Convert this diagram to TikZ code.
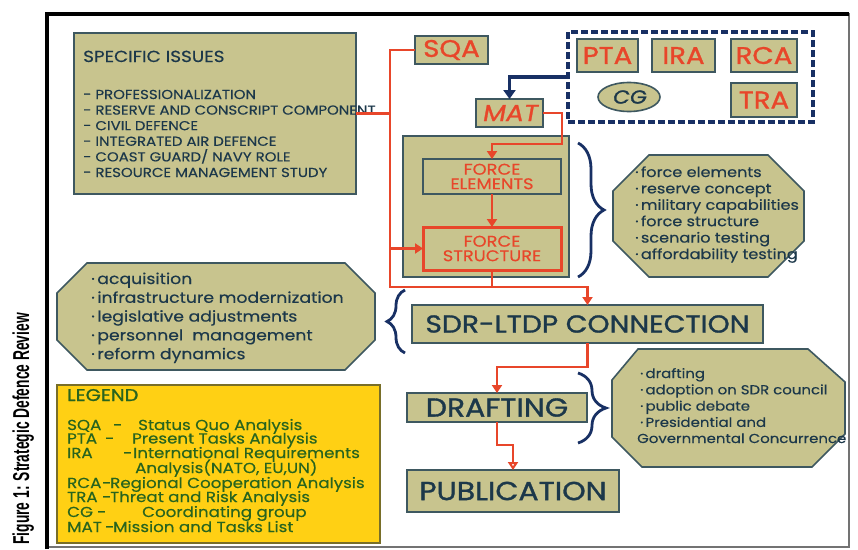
\documentclass[tikz,border=0pt]{standalone}
\usepackage{fontspec}
\setmainfont{Poppins}
\newfontfamily\capfont[FakeStretch=0.6]{Liberation Sans}
\newfontfamily\wide[FakeStretch=1.15,FakeBold=0.4]{Poppins}
\newfontfamily\lblfont[FakeStretch=1.15,FakeBold=1.2]{Poppins}
\newfontfamily\slfont[FakeSlant=0.18,FakeStretch=1.15,FakeBold=1.2]{Poppins}
\usetikzlibrary{arrows.meta,decorations.pathreplacing,shapes.geometric,calc}
\definecolor{khaki}{RGB}{200,196,142}
\definecolor{edge}{RGB}{62,88,96}
\definecolor{ink}{RGB}{28,56,74}
\definecolor{rd}{RGB}{232,70,42}
\definecolor{navy}{RGB}{24,48,100}
\definecolor{gold}{RGB}{255,208,20}
\definecolor{grn}{RGB}{40,100,30}
\definecolor{legedge}{RGB}{120,110,40}
\newcommand\lgline[4]{\rlap{#1}\hspace*{#2pt}\rlap{-}\hspace*{#3pt}#4}
\begin{document}
\begin{tikzpicture}[x=1pt,y=-1pt,
  box/.style={draw=edge, fill=khaki, line width=1.6pt, inner sep=0pt, outer sep=0pt},
  lbl/.style={box, text=ink, font=\lblfont\fontsize{26}{26}\selectfont},
  rbox/.style={box, text=rd, font=\lblfont\fontsize{24}{24}\selectfont},
  smallred/.style={text=rd, align=center, font=\wide\fontsize{15.5}{14.5}\selectfont},
  octo/.style={draw=edge, fill=khaki, line width=1.6pt},
  itemtxt/.style={text=ink, inner sep=0pt, anchor=base west},
  legtxt/.style={text=grn, inner sep=0pt, anchor=base west, font=\wide\fontsize{14.5}{14.5}\selectfont},
  wire/.style={draw=rd, line width=2.8pt},
  tip/.style={-{Triangle[width=10pt,length=8pt]}},
  opentip/.style={-{Triangle[open,fill=white,width=10pt,length=8pt]}},
  navywire/.style={draw=navy, line width=3.5pt},
  navytip/.style={-{Triangle[width=12pt,length=9pt]}},
  bracestyle/.style={draw=navy, line width=2.8pt, decorate},
  capstyle/.style={text=black, inner sep=0pt, font=\capfont\bfseries\fontsize{23}{23}\selectfont}
]
\useasboundingbox (0,0) rectangle (858,549);
\fill[white] (0,0) rectangle (858,549);
% frame
\draw[line width=2pt, black!55] (47,14) rectangle (849,547);
\draw[line width=4pt, black] (47,549) -- (47,14) -- (849,14);

% caption
\node[capstyle, rotate=90, anchor=base east] (cap) at (29,313) {Figure 1: Strategic Defence Review};

% specific issues
\node[box, minimum width=282pt, minimum height=161pt] (si) at (215,113.5) {};
\node[itemtxt, font=\wide\fontsize{16}{16}\selectfont] (sititle) at (83,62) {SPECIFIC ISSUES};
\foreach \t [count=\i] in {- PROFESSIONALIZATION, - RESERVE AND CONSCRIPT COMPONENT, - CIVIL DEFENCE, - INTEGRATED AIR DEFENCE, - COAST GUARD/ NAVY ROLE, - RESOURCE MANAGEMENT STUDY}
  \node[itemtxt, font=\wide\fontsize{13}{13}\selectfont] (si\i) at (83,{99+15.6*(\i-1)}) {\t};

% top boxes
\node[rbox, minimum width=73pt, minimum height=28pt] (sqa) at (451.5,50) {SQA};
\node[rbox, minimum width=67pt, minimum height=28pt, font=\slfont\fontsize{23}{23}\selectfont] (mat) at (509.5,113) {MAT};
\node[draw=navy, line width=3.5pt, dash pattern=on 7pt off 3pt, minimum width=245pt, minimum height=90pt, inner sep=0pt, outer sep=0pt] (grp) at (690.5,77) {};
\node[rbox, minimum width=61pt, minimum height=33pt] (pta) at (607.5,55.5) {PTA};
\node[rbox, minimum width=63pt, minimum height=33pt] (ira) at (683.5,55.5) {IRA};
\node[rbox, minimum width=66pt, minimum height=33pt] (rca) at (764,55.5) {RCA};
\node[rbox, minimum width=66pt, minimum height=34pt] (tra) at (764,100) {TRA};
\node[box, ellipse, minimum width=62pt, minimum height=29pt, text=ink, font=\slfont\fontsize{19}{19}\selectfont] (cg) at (629,97) {CG};

% force container
\node[box, minimum width=166pt, minimum height=141pt] (fc) at (486,206.5) {};
\node[box, minimum width=138pt, minimum height=35pt, smallred] (fe) at (492,176.5) {FORCE\\ELEMENTS};
\node[box, draw=rd, line width=3pt, minimum width=138pt, minimum height=43pt, smallred] (fs) at (492,248.5) {FORCE\\STRUCTURE};

% main flow
\node[lbl, minimum width=351pt, minimum height=38pt, font=\lblfont\fontsize{24.5}{24.5}\selectfont] (sdr) at (587.5,324) {SDR-LTDP CONNECTION};
\node[lbl, minimum width=180pt, minimum height=29pt] (dr) at (497,407.5) {DRAFTING};
\node[lbl, minimum width=212pt, minimum height=42pt] (pub) at (513,491) {PUBLICATION};

% octagons
\draw[octo] (87,263) -- (345,263) -- (375,293) -- (375,340) -- (345,370) -- (87,370) -- (57,340) -- (57,293) -- cycle;
\foreach \t [count=\i] in {acquisition, infrastructure modernization, legislative adjustments, personnel~ management, reform dynamics}
  \node[itemtxt, font=\wide\fontsize{15}{15}\selectfont] (ol\i) at (91,{284+18.8*(\i-1)}) {·\,\t};

\draw[octo] (649,155) -- (768,155) -- (804,191) -- (804,241) -- (768,277) -- (649,277) -- (613,241) -- (613,191) -- cycle;
\foreach \t [count=\i] in {force elements, reserve concept, military capabilities, force structure, scenario testing, affordability testing}
  \node[itemtxt, font=\wide\fontsize{14}{14}\selectfont] (or\i) at (635,{177+16.4*(\i-1)}) {·\,\t};

\draw[octo] (638,349) -- (808,349) -- (845,382) -- (845,434) -- (812,467) -- (642,467) -- (612,437) -- (612,380) -- cycle;
\foreach \t [count=\i] in {drafting, adoption on SDR council, public debate, Presidential and}
  \node[itemtxt, font=\wide\fontsize{13}{13}\selectfont] (ob\i) at (640,{378+16.3*(\i-1)}) {·\,\t};
\node[itemtxt, font=\wide\fontsize{13}{13}\selectfont] (ob5) at (637,443) {Governmental Concurrence};

% braces
\draw[bracestyle, decoration={brace, amplitude=26pt}] (578,143) -- (578,277);
\draw[bracestyle, decoration={brace, amplitude=18pt}] (405,353) -- (405,290);
\draw[bracestyle, decoration={brace, amplitude=28pt}] (578,373) -- (578,443);

% legend
\node[draw=legedge, fill=gold, line width=1.5pt, minimum width=323pt, minimum height=158pt, inner sep=0pt] (leg) at (218.5,464) {};
\node[legtxt, font=\lblfont\fontsize{17}{17}\selectfont] (legtitle) at (67,401) {LEGEND};
\node[legtxt] (lg1) at (67,430) {\lgline{SQA}{46}{25}{Status Quo Analysis}};
\node[legtxt] (lg2) at (67,443.5) {\lgline{PTA}{38}{27}{Present Tasks Analysis}};
\node[legtxt] (lg3) at (67,458) {\lgline{IRA}{56}{10}{International Requirements}};
\node[legtxt] (lg4) at (135,473) {Analysis(NATO, EU,UN)};
\node[legtxt] (lg5) at (67,488) {\lgline{RCA}{35}{8}{Regional Cooperation Analysis}};
\node[legtxt] (lg6) at (67,502) {\lgline{TRA}{35}{8}{Threat and Risk Analysis}};
\node[legtxt] (lg7) at (67,517) {\lgline{CG}{30}{45}{Coordinating group}};
\node[legtxt] (lg8) at (67,532) {\lgline{MAT}{38}{8}{Mission and Tasks List}};

% connectors
\coordinate (bus) at (390,287);
\coordinate (m1) at (562,144);
\coordinate (d1) at (497,367);
\coordinate (p1) at (497,445);
\draw[wire] (si.east) -- (si.east -| bus);
\draw[wire, tip] (sqa.west) -| (bus) -| (sdr.north);
\draw[wire, tip] (bus |- fs.west) -- (fs.west);
\draw[wire] (fs.south) -- (fs.south |- bus);
\draw[wire, tip] (mat.east) -| (m1) -| (fe.north);
\draw[wire, tip] (fe.south) -- (fs.north);
\draw[wire, tip] (sdr.south) |- (d1) -- (dr.north);
\draw[wire, opentip] (dr.south) -- (p1) -| (pub.north);
\draw[navywire, navytip] (grp.west) -| (mat.north);
\end{tikzpicture}
\end{document}
